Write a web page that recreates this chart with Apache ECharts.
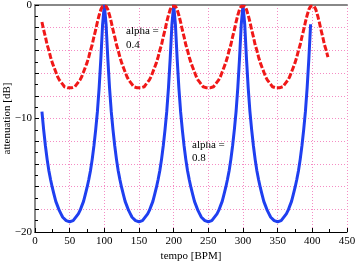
<!DOCTYPE html>
<html>
<head>
<meta charset="utf-8">
<script src="https://cdn.jsdelivr.net/npm/echarts@6/dist/echarts.min.js"></script>
<style>
html, body { margin: 0; padding: 0; background: #fff; }
#main { width: 355px; height: 266px; }
</style>
</head>
<body>
<div id="main"></div>
<script>
// tempo [BPM], sampled every 2.5
var tempo = [
	10, 12.5, 15, 17.5, 20, 22.5, 25, 27.5, 30, 32.5, 35, 37.5, 40, 42.5, 45, 47.5, 50, 52.5, 55, 57.5,
	60, 62.5, 65, 67.5, 70, 72.5, 75, 77.5, 80, 82.5, 85, 87.5, 90, 92.5, 95, 97.5, 100, 102.5, 105, 107.5,
	110, 112.5, 115, 117.5, 120, 122.5, 125, 127.5, 130, 132.5, 135, 137.5, 140, 142.5, 145, 147.5, 150, 152.5, 155, 157.5,
	160, 162.5, 165, 167.5, 170, 172.5, 175, 177.5, 180, 182.5, 185, 187.5, 190, 192.5, 195, 197.5, 200, 202.5, 205, 207.5,
	210, 212.5, 215, 217.5, 220, 222.5, 225, 227.5, 230, 232.5, 235, 237.5, 240, 242.5, 245, 247.5, 250, 252.5, 255, 257.5,
	260, 262.5, 265, 267.5, 270, 272.5, 275, 277.5, 280, 282.5, 285, 287.5, 290, 292.5, 295, 297.5, 300, 302.5, 305, 307.5,
	310, 312.5, 315, 317.5, 320, 322.5, 325, 327.5, 330, 332.5, 335, 337.5, 340, 342.5, 345, 347.5, 350, 352.5, 355, 357.5,
	360, 362.5, 365, 367.5, 370, 372.5, 375, 377.5, 380, 382.5, 385, 387.5, 390, 392.5, 395, 397.5, 400, 402.5, 405, 407.5,
	410, 412.5, 415, 417.5, 420, 422.5
];

// alpha = 0.4 (red dashed)
var atten04 = [
	-1.5, -2.2, -2.8, -3.5, -4.0, -4.6, -5.1, -5.5, -5.9, -6.3, -6.6, -6.8, -7.0, -7.2, -7.3, -7.3, -7.4, -7.3, -7.3, -7.2,
	-7.0, -6.8, -6.6, -6.3, -5.9, -5.5, -5.1, -4.6, -4.0, -3.5, -2.8, -2.2, -1.5, -0.9, -0.4, -0.1, 0, -0.1, -0.4, -0.9,
	-1.5, -2.2, -2.8, -3.5, -4.0, -4.6, -5.1, -5.5, -5.9, -6.3, -6.6, -6.8, -7.0, -7.2, -7.3, -7.3, -7.4, -7.3, -7.3, -7.2,
	-7.0, -6.8, -6.6, -6.3, -5.9, -5.5, -5.1, -4.6, -4.0, -3.5, -2.8, -2.2, -1.5, -0.9, -0.4, -0.1, 0, -0.1, -0.4, -0.9,
	-1.5, -2.2, -2.8, -3.5, -4.0, -4.6, -5.1, -5.5, -5.9, -6.3, -6.6, -6.8, -7.0, -7.2, -7.3, -7.3, -7.4, -7.3, -7.3, -7.2,
	-7.0, -6.8, -6.6, -6.3, -5.9, -5.5, -5.1, -4.6, -4.0, -3.5, -2.8, -2.2, -1.5, -0.9, -0.4, -0.1, 0, -0.1, -0.4, -0.9,
	-1.5, -2.2, -2.8, -3.5, -4.0, -4.6, -5.1, -5.5, -5.9, -6.3, -6.6, -6.8, -7.0, -7.2, -7.3, -7.3, -7.4, -7.3, -7.3, -7.2,
	-7.0, -6.8, -6.6, -6.3, -5.9, -5.5, -5.1, -4.6, -4.0, -3.5, -2.8, -2.2, -1.5, -0.9, -0.4, -0.1, 0, -0.1, -0.4, -0.9,
	-1.5, -2.2, -2.8, -3.5, -4.0, -4.6
];

// alpha = 0.8 (blue solid)
var atten08 = [
	-9.4, -11.0, -12.4, -13.6, -14.6, -15.4, -16.1, -16.7, -17.3, -17.7, -18.1, -18.4, -18.7, -18.8, -19.0, -19.1, -19.1, -19.1, -19.0, -18.8,
	-18.7, -18.4, -18.1, -17.7, -17.3, -16.7, -16.1, -15.4, -14.6, -13.6, -12.4, -11.0, -9.4, -7.3, -4.7, -1.7, 0, -1.7, -4.7, -7.3,
	-9.4, -11.0, -12.4, -13.6, -14.6, -15.4, -16.1, -16.7, -17.3, -17.7, -18.1, -18.4, -18.7, -18.8, -19.0, -19.1, -19.1, -19.1, -19.0, -18.8,
	-18.7, -18.4, -18.1, -17.7, -17.3, -16.7, -16.1, -15.4, -14.6, -13.6, -12.4, -11.0, -9.4, -7.3, -4.7, -1.7, 0, -1.7, -4.7, -7.3,
	-9.4, -11.0, -12.4, -13.6, -14.6, -15.4, -16.1, -16.7, -17.3, -17.7, -18.1, -18.4, -18.7, -18.8, -19.0, -19.1, -19.1, -19.1, -19.0, -18.8,
	-18.7, -18.4, -18.1, -17.7, -17.3, -16.7, -16.1, -15.4, -14.6, -13.6, -12.4, -11.0, -9.4, -7.3, -4.7, -1.7, 0, -1.7, -4.7, -7.3,
	-9.4, -11.0, -12.4, -13.6, -14.6, -15.4, -16.1, -16.7, -17.3, -17.7, -18.1, -18.4, -18.7, -18.8, -19.0, -19.1, -19.1, -19.1, -19.0, -18.8,
	-18.7, -18.4, -18.1, -17.7, -17.3, -16.7, -16.1, -15.4, -14.6, -13.6, -12.4, -11.0, -9.4, -7.3, -4.7, -1.7
];

var xTicks = { min: 0, max: 450, step: 50 };
var yTicks = { min: -20, max: 0, step: 2 };

function pairs(vals) {
	var out = [];
	for (var i = 0; i < vals.length; i++) {
		out.push([tempo[i], vals[i]]);
	}
	return out;
}

var FONT = 'Liberation Serif';
var gridPink = '#f58cc4';

var myChart = echarts.init(document.getElementById('main'), null, { renderer: 'canvas' });

var option = {
	animation: false,
	backgroundColor: '#fff',
	grid: { left: 35, right: 8, top: 5, bottom: 34, containLabel: false, outerBoundsMode: 'none' },
	xAxis: [{
		type: 'value',
		min: xTicks.min,
		max: xTicks.max,
		interval: xTicks.step,
		name: 'tempo [BPM]',
		nameLocation: 'middle',
		nameGap: 19,
		nameMoveOverlap: false,
		nameTextStyle: { fontFamily: FONT, fontSize: 11, color: '#000' },
		axisLine: { show: true, onZero: false, lineStyle: { color: '#000', width: 1 } },
		axisTick: { show: true, inside: true, length: 4, lineStyle: { color: '#000' } },
		minorTick: { show: true, splitNumber: 2, length: 3, lineStyle: { color: '#000' } },
		axisLabel: { fontFamily: FONT, fontSize: 11, color: '#000', margin: 4 },
		splitLine: { show: true, lineStyle: { color: gridPink, type: [1, 2], width: 1 } }
	}, {
		type: 'value',
		position: 'top',
		min: xTicks.min,
		max: xTicks.max,
		axisLine: { show: true, lineStyle: { color: '#888', width: 2 } },
		axisTick: { show: false },
		axisLabel: { show: false },
		splitLine: { show: false }
	}],
	yAxis: [{
		type: 'value',
		min: yTicks.min,
		max: yTicks.max,
		interval: yTicks.step,
		name: 'attenuation [dB]',
		nameLocation: 'middle',
		nameGap: 22,
		nameMoveOverlap: false,
		nameTextStyle: { fontFamily: FONT, fontSize: 11, color: '#000' },
		axisLine: { show: true, onZero: false, lineStyle: { color: '#000', width: 1 } },
		axisTick: { show: true, inside: true, length: 4, lineStyle: { color: '#000' } },
		minorTick: { show: true, splitNumber: 2, length: 3, lineStyle: { color: '#000' } },
		axisLabel: {
			fontFamily: FONT, fontSize: 11, color: '#000', margin: 3,
			formatter: function(v) {
				if (v % 10 !== 0) return '';
				return v < 0 ? '\u2212' + Math.abs(v) : String(v);
			}
		},
		splitLine: { show: true, lineStyle: { color: gridPink, type: [1, 2], width: 1 } }
	}, {
		type: 'value',
		position: 'right',
		min: yTicks.min,
		max: yTicks.max,
		axisLine: { show: true, lineStyle: { color: '#888', width: 2 } },
		axisTick: { show: false },
		axisLabel: { show: false },
		splitLine: { show: false }
	}],
	series: [{
		name: 'alpha = 0.8',
		type: 'line',
		data: pairs(atten08),
		showSymbol: false,
		lineStyle: { color: '#1f3ff0', width: 3 },
		z: 3
	}, {
		name: 'alpha = 0.4',
		type: 'line',
		data: pairs(atten04),
		showSymbol: false,
		lineStyle: { color: '#f01818', width: 3, type: [6, 2] },
		z: 4
	}],
	graphic: [
		{ type: 'text', left: 126, top: 26, style: { text: 'alpha =', font: '11px "Liberation Serif"', fill: '#000' } },
		{ type: 'text', left: 126, top: 40, style: { text: '0.4', font: '11px "Liberation Serif"', fill: '#000' } },
		{ type: 'text', left: 192, top: 140, style: { text: 'alpha =', font: '11px "Liberation Serif"', fill: '#000' } },
		{ type: 'text', left: 192, top: 153, style: { text: '0.8', font: '11px "Liberation Serif"', fill: '#000' } }
	]
};
myChart.setOption(option);
</script>
</body>
</html>
